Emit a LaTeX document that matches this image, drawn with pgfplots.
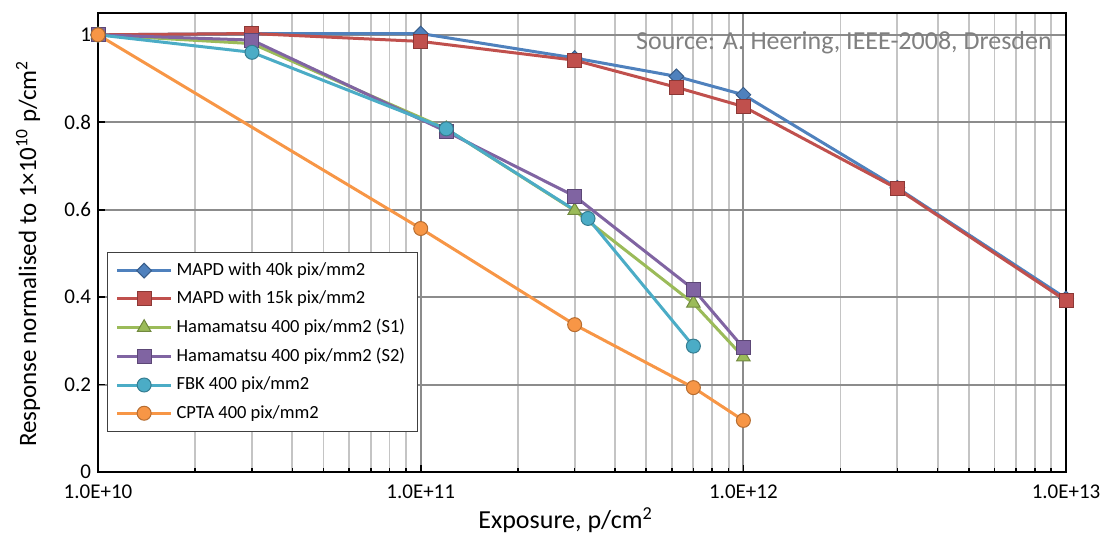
\documentclass[border=0pt]{standalone}
\usepackage{pgfplots}
\pgfplotsset{compat=1.18}
\usepackage{fontspec}
\setmainfont{Carlito}
\definecolor{cBlue}{HTML}{4F81BD}\definecolor{cBlueD}{HTML}{385D8A}
\definecolor{cRed}{HTML}{C0504D}\definecolor{cRedD}{HTML}{8C3836}
\definecolor{cGreen}{HTML}{9BBB59}\definecolor{cGreenD}{HTML}{71893F}
\definecolor{cPurple}{HTML}{8064A2}\definecolor{cPurpleD}{HTML}{5C4776}
\definecolor{cTeal}{HTML}{4BACC6}\definecolor{cTealD}{HTML}{357D91}
\definecolor{cOrange}{HTML}{F79646}\definecolor{cOrangeD}{HTML}{B66D31}
\definecolor{gMaj}{HTML}{8C8C8C}\definecolor{gMin}{HTML}{C4C4C4}
\begin{document}
\begin{tikzpicture}
\begin{axis}[
  scale only axis, width=484pt, height=229.5pt,
  xmode=log, xmin=1e10, xmax=1e13, ymin=0, ymax=1.05,
  xtick={1e10,1e11,1e12,1e13},
  xticklabels={1.0E+10,1.0E+11,1.0E+12,1.0E+13},
  minor xtick={2e10,3e10,4e10,5e10,6e10,7e10,8e10,9e10,2e11,3e11,4e11,5e11,6e11,7e11,8e11,9e11,2e12,3e12,4e12,5e12,6e12,7e12,8e12,9e12},
  ytick={0,0.2,0.4,0.6,0.8,1},
  yticklabels={0,0.2,0.4,0.6,0.8,1},
  grid=both,
  major grid style={draw=gMaj, line width=1pt},
  minor grid style={draw=gMin, line width=0.9pt},
  axis line style={black, line width=1.2pt},
  tick align=inside, xtick pos=left, ytick pos=left,
  tick style={black, line width=0.8pt},
  major tick length=3.5pt, minor tick length=2pt,
  ticklabel style={font=\fontsize{10.5}{12}\selectfont},
  xticklabel style={yshift=-3pt},
  xlabel={Exposure, p/cm\textsuperscript{2}},
  xlabel style={font=\fontsize{13}{15}\selectfont, at={(axis description cs:0.483,0)}, anchor=center, yshift=-24pt},
  ylabel={Response normalised to 1×10\textsuperscript{10} p/cm\textsuperscript{2}},
  ylabel style={font=\fontsize{12.5}{15}\selectfont, at={(axis description cs:-0.0723,0.476)}, anchor=center},
  legend cell align=left,
  legend style={at={(0.0093,0.479)}, anchor=north west, draw=black!75, line width=0.6pt,
    font=\fontsize{9.25}{11}\selectfont, row sep=2.2pt, inner xsep=4pt, inner ysep=3pt},
  legend image code/.code={\draw[mark repeat=2,mark phase=2] plot coordinates {(0pt,0pt)(13.5pt,0pt)(27pt,0pt)};},
  every axis plot/.append style={line width=1.5pt},
]
\addplot[color=cBlue, mark=square*, mark size=2.6pt, mark options={fill=cBlue, draw=cBlueD, line width=0.5pt, rotate=45}]
 coordinates {(1e10,1.0)(3e10,1.003)(1e11,1.003)(3e11,0.947)(6.2e11,0.905)(1e12,0.863)(3e12,0.65)(1e13,0.397)};
\addlegendentry{MAPD with 40k pix/mm2}
\addplot[color=cRed, mark=square*, mark size=3.5pt, mark options={fill=cRed, draw=cRedD, line width=0.5pt}]
 coordinates {(1e10,1.0)(3e10,1.003)(1e11,0.985)(3e11,0.942)(6.2e11,0.88)(1e12,0.836)(3e12,0.648)(1e13,0.392)};
\addlegendentry{MAPD with 15k pix/mm2}
\addplot[color=cGreen, mark=triangle*, mark size=3.9pt, mark options={fill=cGreen, draw=cGreenD, line width=0.5pt}]
 coordinates {(1e10,1.0)(3e10,0.98)(1.2e11,0.785)(3e11,0.598)(7e11,0.386)(1e12,0.263)};
\addlegendentry{Hamamatsu 400 pix/mm2 (S1)}
\addplot[color=cPurple, mark=square*, mark size=3.5pt, mark options={fill=cPurple, draw=cPurpleD, line width=0.5pt}]
 coordinates {(1e10,1.0)(3e10,0.988)(1.2e11,0.779)(3e11,0.631)(7e11,0.418)(1e12,0.284)};
\addlegendentry{Hamamatsu 400 pix/mm2 (S2)}
\addplot[color=cTeal, mark=*, mark size=3.5pt, mark options={fill=cTeal, draw=cTealD, line width=0.5pt}]
 coordinates {(1e10,1.0)(3e10,0.96)(1.2e11,0.785)(3.3e11,0.58)(7e11,0.288)};
\addlegendentry{FBK 400 pix/mm2}
\addplot[color=cOrange, mark=*, mark size=3.5pt, mark options={fill=cOrange, draw=cOrangeD, line width=0.5pt}]
 coordinates {(1e10,1.0)(1e11,0.557)(3e11,0.337)(7e11,0.193)(1e12,0.118)};
\addlegendentry{CPTA 400 pix/mm2}
\node[anchor=east, text=black!50, font=\fontsize{13}{15}\selectfont, inner sep=0pt] at (rel axis cs:0.9855,0.935) {Source: A. Heering, IEEE-2008, Dresden};
\end{axis}
\pgfresetboundingbox
\path (current axis.south west) ++(-49pt,-30.5pt) rectangle ++(552pt,266.5pt);
\end{tikzpicture}
\end{document}
